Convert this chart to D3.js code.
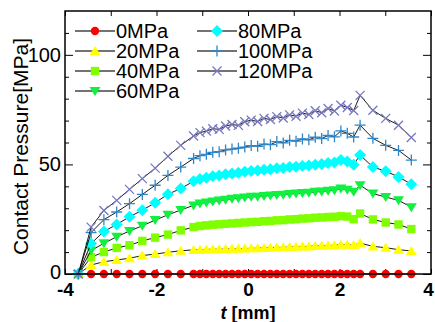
<!DOCTYPE html>
<html>
<head>
<meta charset="utf-8">
<script src="https://cdn.jsdelivr.net/npm/d3@7"></script>
<style>
  body { margin: 0; background: #fff; }
  svg { font-family: "Liberation Sans", Arial, sans-serif; }
</style>
</head>
<body>
<svg id="drawing_region"></svg>
<script>
// positions along t [mm]
const tValues = [-3.71,
  -3.43, -3.15, -2.87, -2.59, -2.31, -2.03, -1.75, -1.47,
  -1.19, -1.05, -0.91, -0.77, -0.63, -0.49, -0.35, -0.21, -0.07, 0.07, 0.21, 0.35, 0.49,
  0.63, 0.77, 0.91, 1.05, 1.19, 1.33, 1.47, 1.61, 1.75, 1.89, 2.03, 2.17, 2.31, 2.45,
  2.73, 3.01, 3.29, 3.57];

const labels = ["0MPa", "20MPa", "40MPa", "60MPa", "80MPa", "100MPa", "120MPa"];

const p0 = [0,
  0, 0, 0, 0, 0, 0, 0, 0,
  0, 0, 0, 0, 0, 0, 0, 0, 0, 0, 0, 0, 0,
  0, 0, 0, 0, 0, 0, 0, 0, 0, 0, 0, 0, 0, 0,
  0, 0, 0, 0];
const p20 = [0,
  4.1, 5.6, 6.4, 7.2, 8.4, 9.1, 9.9, 10.6,
  11.0, 11.1, 11.2, 11.3, 11.3, 11.4, 11.5, 11.5, 11.6, 11.7, 11.8, 11.9, 12.0,
  12.1, 12.2, 12.3, 12.4, 12.5, 12.6, 12.8, 12.9, 13.0, 13.1, 13.4, 13.3, 13.2, 14.1,
  12.6, 12.0, 11.1, 10.5];
const p40 = [0,
  7.7, 10.0, 11.9, 13.1, 15.1, 16.6, 18.0, 19.9,
  21.4, 21.9, 22.2, 22.5, 22.7, 22.9, 23.1, 23.3, 23.5, 23.7, 23.8, 24.1, 24.2,
  24.5, 24.6, 24.9, 25.0, 25.3, 25.4, 25.7, 25.8, 26.0, 26.1, 26.4, 26.2, 25.0, 27.6,
  24.9, 23.5, 22.6, 20.5];
const p60 = [0,
  10.7, 14.0, 17.0, 19.6, 22.0, 24.6, 27.0, 29.2,
  31.3, 32.2, 32.6, 33.1, 33.5, 33.9, 34.3, 34.6, 34.9, 35.2, 35.3, 35.6, 35.8,
  36.1, 36.2, 36.5, 36.7, 37.0, 37.1, 37.5, 37.6, 38.0, 38.2, 39.0, 38.4, 37.5, 40.5,
  36.7, 35.1, 33.6, 30.5];
const p80 = [0,
  13.9, 19.4, 22.6, 26.1, 29.1, 32.5, 36.4, 39.0,
  42.3, 43.3, 43.9, 44.6, 45.0, 45.5, 45.8, 46.2, 46.6, 47.0, 47.2, 47.6, 47.8,
  48.3, 48.4, 48.8, 48.9, 49.3, 49.5, 49.9, 50.2, 50.6, 50.9, 52.0, 51.3, 49.9, 54.3,
  48.8, 46.9, 44.3, 41.0];
const p100 = [0,
  18.9, 24.8, 28.3, 32.1, 36.3, 40.5, 45.0, 48.8,
  52.7, 54.0, 54.6, 55.5, 55.8, 56.6, 57.0, 57.4, 57.9, 58.6, 58.3, 59.3, 59.0,
  60.4, 59.8, 61.0, 60.6, 61.6, 61.2, 62.4, 61.8, 63.2, 62.6, 65.3, 64.2, 62.5, 67.9,
  61.9, 58.7, 56.4, 52.0];
const p120 = [0,
  21.4, 29.0, 33.6, 38.6, 43.5, 48.3, 53.7, 58.7,
  63.0, 64.5, 65.2, 66.3, 66.0, 67.5, 68.2, 67.8, 69.5, 70.2, 69.6, 71.0, 70.5,
  71.8, 71.2, 72.6, 72.0, 73.4, 72.8, 74.5, 73.6, 75.5, 74.4, 77.0, 76.0, 74.6, 81.5,
  74.7, 71.0, 67.9, 62.3];

const xTicks = [-4, -3, -2, -1, 0, 1, 2, 3, 4];
const xTickLabels = [-4, -2, 0, 2, 4];
const yMajorTicks = [0, 50, 100];
const yMinorTicks = [10, 20, 30, 40, 60, 70, 80, 90, 110];

const series = [p0, p20, p40, p60, p80, p100, p120];
const colors = ["#ff0000", "#ffff00", "#80ff00", "#10f040", "#00ffff", "#2f86c8", "#7878c0"];
const shapes = ["circle", "triangle", "square", "triangleDown", "diamond", "plus", "cross"];

const config = {
    width: 435,
    height: 322,
    margin: {top: 11, right: 4, bottom: 48, left: 65}
};

const svg = d3.select('#drawing_region')
    .attr('width', config.width)
    .attr('height', config.height);

const inner_width = config.width - config.margin.left - config.margin.right;
const inner_height = config.height - config.margin.top - config.margin.bottom;

const chart = svg.append('g')
    .attr('transform', `translate(${config.margin.left}, ${config.margin.top})`);

const xscale = d3.scaleLinear().domain([-4, 4]).range([0, inner_width]);
const yscale = d3.scaleLinear().domain([0, 120]).range([inner_height, 0]);

// marker path, centred on 0,0
function marker(shape) {
    const p = d3.path();
    switch (shape) {
        case "circle":
            p.arc(0, 0, 4.2, 0, 2 * Math.PI);
            break;
        case "triangle":
            p.moveTo(0, -5); p.lineTo(5.5, 4); p.lineTo(-5.5, 4); p.closePath();
            break;
        case "triangleDown":
            p.moveTo(0, 5); p.lineTo(5.5, -4); p.lineTo(-5.5, -4); p.closePath();
            break;
        case "square":
            p.rect(-4.2, -4.2, 8.4, 8.4);
            break;
        case "diamond":
            p.moveTo(0, -6); p.lineTo(6, 0); p.lineTo(0, 6); p.lineTo(-6, 0); p.closePath();
            break;
        case "plus":
            p.moveTo(-5.5, 0); p.lineTo(5.5, 0); p.moveTo(0, -5.5); p.lineTo(0, 5.5);
            break;
        case "cross":
            p.moveTo(-4.5, -4.5); p.lineTo(4.5, 4.5); p.moveTo(-4.5, 4.5); p.lineTo(4.5, -4.5);
            break;
    }
    return p.toString();
}

function drawMarker(g, shape, color) {
    const stroked = shape === "plus" || shape === "cross";
    return g.append('path')
        .attr('d', marker(shape))
        .attr('fill', stroked ? 'none' : color)
        .attr('stroke', stroked ? color : 'none')
        .attr('stroke-width', stroked ? 1.3 : 0);
}

// axes with inward ticks
const tickStyle = g => {
    g.select('.domain').remove();
    g.selectAll('.tick line').attr('stroke', '#000').attr('stroke-width', 1);
};

chart.append('g')
    .attr('transform', `translate(0, ${inner_height})`)
    .call(d3.axisBottom(xscale).tickValues(xTicks).tickSize(-5).tickPadding(9)
        .tickFormat(d => xTickLabels.includes(d) ? String(d) : ''))
    .call(tickStyle)
    .call(g => g.selectAll('text')
        .attr('fill', '#000').attr('font-size', 19).attr('font-weight', 'bold')
        .attr('font-family', '"Liberation Sans", Arial, sans-serif')
        .attr('dx', d => d === 4 ? -3 : 0));

chart.append('g')
    .call(d3.axisTop(xscale).tickValues(xTicks).tickSize(-5).tickFormat(''))
    .call(tickStyle);

chart.append('g')
    .call(d3.axisLeft(yscale).tickValues(yMinorTicks).tickSize(-4).tickFormat(''))
    .call(tickStyle);

chart.append('g')
    .call(d3.axisLeft(yscale).tickValues(yMajorTicks).tickSize(-8).tickPadding(4)
        .tickFormat(d => String(d)))
    .call(tickStyle)
    .call(g => g.selectAll('text')
        .attr('fill', '#000').attr('font-size', 20)
        .attr('font-family', '"Liberation Sans", Arial, sans-serif')
        .attr('dy', d => d === 0 ? '0.22em' : '0.32em'));

chart.append('g')
    .attr('transform', `translate(${inner_width}, 0)`)
    .call(d3.axisRight(yscale).tickValues(yMinorTicks).tickSize(-4).tickFormat(''))
    .call(tickStyle);

chart.append('g')
    .attr('transform', `translate(${inner_width}, 0)`)
    .call(d3.axisRight(yscale).tickValues(yMajorTicks).tickSize(-8).tickFormat(''))
    .call(tickStyle);

// series
const line = d3.line()
    .x(d => xscale(d[0]))
    .y(d => yscale(d[1]));

series.forEach((vals, i) => {
    const pts = tValues.map((t, j) => [t, vals[j]]);
    const g = chart.append('g');
    g.append('path')
        .attr('d', line(pts))
        .attr('fill', 'none')
        .attr('stroke', '#000')
        .attr('stroke-width', 0.9);
    pts.forEach(d => {
        drawMarker(g, shapes[i], colors[i])
            .attr('transform', `translate(${xscale(d[0])}, ${yscale(d[1])})`);
    });
});

// frame
chart.append('rect')
    .attr('width', inner_width)
    .attr('height', inner_height)
    .attr('fill', 'none')
    .attr('stroke', '#000')
    .attr('stroke-width', 1.5);

// legend
const legend = chart.append('g');
labels.forEach((lab, i) => {
    const col = i < 4 ? 0 : 1;
    const row = i < 4 ? i : i - 4;
    const g = legend.append('g')
        .attr('transform', `translate(${10 + col * 122}, ${20 + row * 20})`);
    g.append('line')
        .attr('x1', 0).attr('x2', 40)
        .attr('stroke', '#444').attr('stroke-width', 1.5);
    drawMarker(g, shapes[i], colors[i]).attr('transform', 'translate(20, 0)');
    g.append('text')
        .attr('x', 41)
        .attr('dy', '0.36em')
        .attr('font-size', 20)
        .text(lab);
});

// axis titles
svg.append('text')
    .attr('transform', `translate(28, ${config.margin.top + inner_height / 2 + 4}) rotate(-90)`)
    .attr('text-anchor', 'middle')
    .attr('font-size', 21)
    .text('Contact Pressure[MPa]');

const xlabel = svg.append('text')
    .attr('x', config.margin.left + inner_width / 2)
    .attr('y', 319)
    .attr('text-anchor', 'middle')
    .attr('font-size', 18)
    .attr('font-weight', 'bold');
xlabel.append('tspan').attr('font-style', 'italic').text('t');
xlabel.append('tspan').text(' [mm]');
</script>
</body>
</html>
